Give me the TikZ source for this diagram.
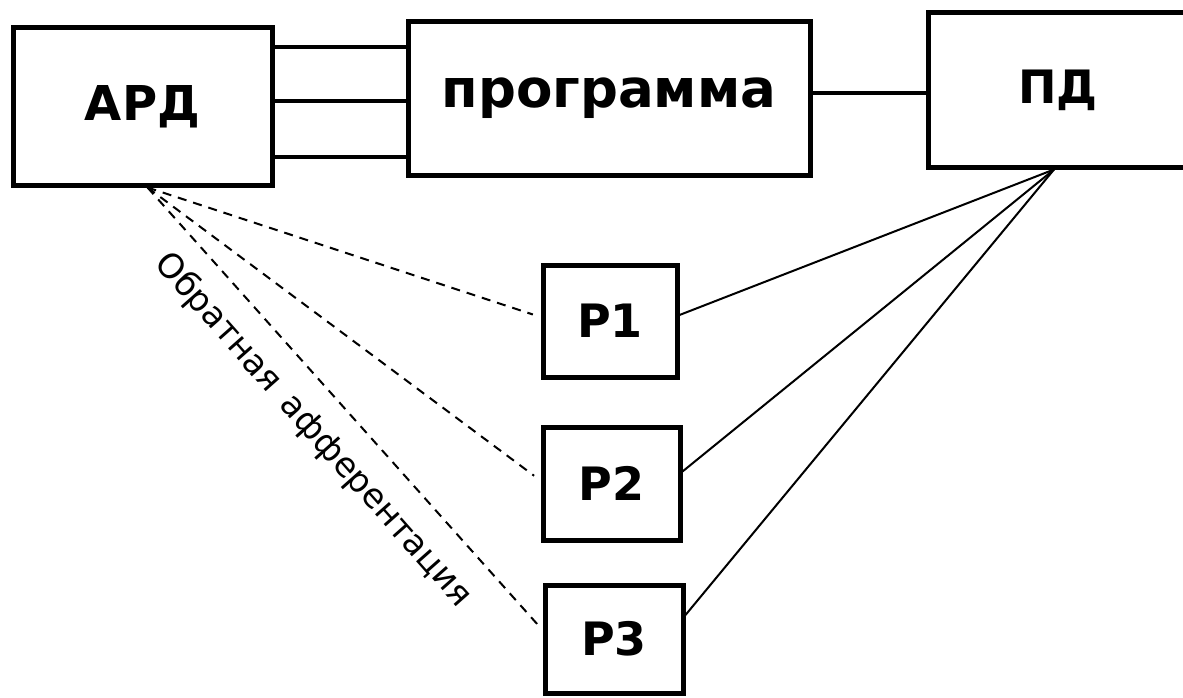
\documentclass[tikz,border=0pt]{standalone}
\usepackage{fontspec}
\setmainfont{DejaVu Sans}
\usetikzlibrary{calc}

\begin{document}
\begin{tikzpicture}[x=1pt, y=-1pt,
		blok/.style={draw, line width=5pt, inner sep=0pt},
		svyaz/.style={line width=4pt},
		obratno/.style={line width=2pt, dash pattern=on 9pt off 7pt, shorten >=8pt},
		pryamo/.style={line width=2pt}]
		\def\bolshoj{\fontsize{46}{54}\selectfont\bfseries}
		\def\melkij{\fontsize{34}{40}\selectfont}
		
		\useasboundingbox (0,0) rectangle (1183,698);
		
		\node [blok, minimum width=259pt, minimum height=157pt, font=\fontsize{48}{56}\selectfont\bfseries] (ard) at (142.5,106.5) {АРД};
		\node [blok, minimum width=402pt, minimum height=153pt, font=\fontsize{53}{62}\selectfont\bfseries] (prog) at (609,98.5) {программа};
		\node [blok, minimum width=260pt, minimum height=154pt, font=\bolshoj] (pd) at (1058,90) {ПД};
		
		\node [blok, minimum width=134pt, minimum height=112pt, font=\bolshoj] (p1) at (610,321) {Р1};
		\node [blok, minimum width=137pt, minimum height=113pt, font=\bolshoj] (p2) at (611.5,483.5) {Р2};
		\node [blok, minimum width=138pt, minimum height=108pt, font=\bolshoj] (p3) at (614,639) {Р3};
		
		\draw [svyaz] ([yshift=59.5pt]ard.east) -- ([yshift=59.5pt]ard.east -| prog.west);
		\draw [svyaz] ([yshift=5.5pt]ard.east) -- ([yshift=5.5pt]ard.east -| prog.west);
		\draw [svyaz] ([yshift=-50.5pt]ard.east) -- ([yshift=-50.5pt]ard.east -| prog.west);
		\draw [svyaz] ([yshift=5.5pt]prog.east) -- ([yshift=5.5pt]prog.east -| pd.west);
		
		\coordinate (fb) at ([xshift=5pt]ard.south);
		\coordinate (pdniz) at ([xshift=-4pt]pd.south);
		
		\draw [obratno] (fb) -- ([yshift=4pt]p1.west);
		\draw [obratno] (fb) -- ([yshift=3pt]p2.west);
		\draw [obratno] (fb) -- ([yshift=9pt]p3.west);
		
		\draw [pryamo] (pdniz) -- ([yshift=6pt]p1.east);
		\draw [pryamo] (pdniz) -- ([yshift=12pt]p2.east);
		\draw [pryamo] (pdniz) -- ([yshift=24pt]p3.east);
		
		\node [rotate=-48.5, font=\melkij] (afferent) at (313,430) {Обратная\hspace{5pt} афферентация};
	\end{tikzpicture}
\end{document}
